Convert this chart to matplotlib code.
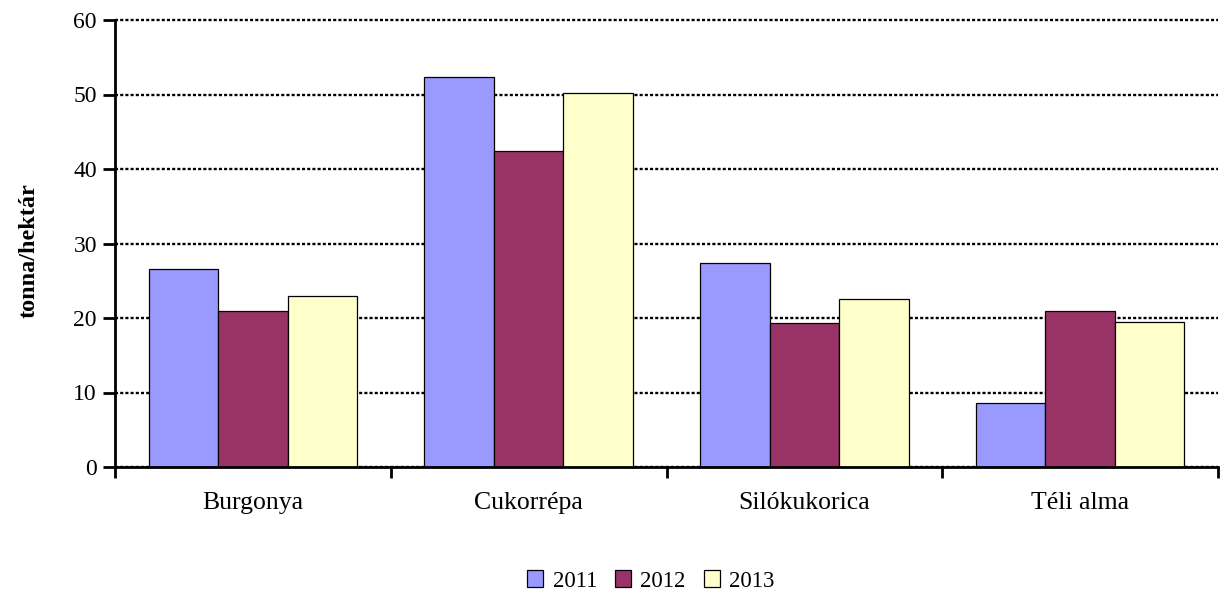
import matplotlib.pyplot as plt
from matplotlib.patches import Patch
import numpy as np

plt.rcParams['font.family'] = ['Liberation Serif', 'DejaVu Serif']

categories = ["Burgonya", "Cukorrépa", "Silókukorica", "Téli alma"]
years = ["2011", "2012", "2013"]
v2011 = [26.6, 52.4, 27.4, 8.6]
v2012 = [21.0, 42.4, 19.3, 20.9]
v2013 = [22.9, 50.2, 22.5, 19.4]
colors = ["#9999FF", "#993366", "#FFFFCC"]

fig = plt.figure(figsize=(12.28, 5.96), dpi=100)
ax = fig.add_axes([115/1228, 1 - 467/596, (1218-115)/1228, (467-20)/596])

x = np.arange(len(categories))
w = 0.252
for i, vals in enumerate([v2011, v2012, v2013]):
    ax.bar(x + (i - 1) * w, vals, width=w, color=colors[i], edgecolor="black",
           linewidth=0.9, zorder=3)

ax.set_xlim(-0.5, len(categories) - 0.5)
ax.set_ylim(0, 60)
ax.set_yticks(range(0, 61, 10))
ax.set_xticks(x)
ax.set_xticklabels(categories)
ax.set_xticks(np.arange(-0.5, len(categories)), minor=True)

ax.yaxis.grid(True, color="black", linestyle=(0, (1.3, 0.9)), linewidth=1.7, zorder=0)
ax.set_axisbelow(True)
for gl in ax.get_ygridlines():
    gl.set_clip_on(False)

for s in ["top", "right"]:
    ax.spines[s].set_visible(False)
ax.spines["left"].set_linewidth(2)
ax.spines["bottom"].set_linewidth(2)
ax.spines["bottom"].set_zorder(4)

ax.tick_params(axis="y", length=9, width=2, pad=4, labelsize=17)
ax.tick_params(axis="x", which="major", length=0, pad=18, labelsize=18.5)
ax.tick_params(axis="x", which="minor", length=8, width=2)

ax.set_ylabel("tonna/hektár", fontsize=17.5, fontweight="bold")
ax.yaxis.set_label_coords(-75/1103, 0.485)

handles = [Patch(facecolor=c, edgecolor="black", linewidth=0.9) for c in colors]
fig.legend(handles, years, loc="center", bbox_to_anchor=(651/1228, 1 - 581/596),
           ncol=3, frameon=False, fontsize=16.5, handlelength=0.7, handleheight=0.7,
           handletextpad=0.4, columnspacing=0.8, borderpad=0)

fig.savefig("out.png", dpi=100)
